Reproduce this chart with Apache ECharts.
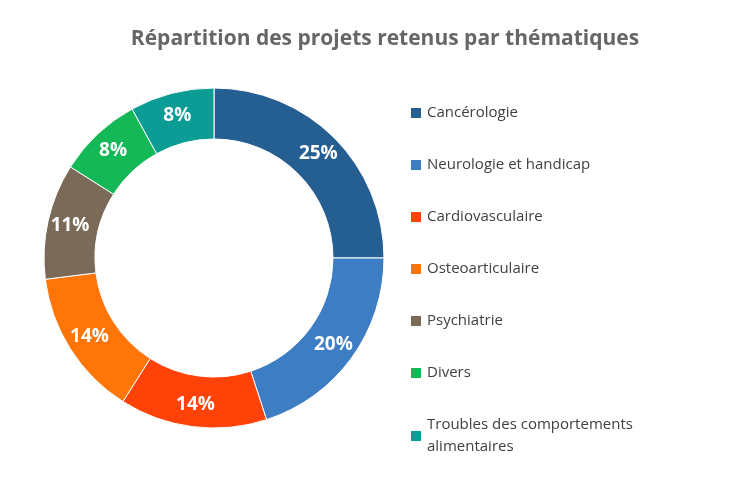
<!DOCTYPE html>
<html>
<head>
<meta charset="utf-8">
<script src="https://cdn.jsdelivr.net/npm/echarts@6/dist/echarts.min.js"></script>
<style>html,body{margin:0;background:#fff}#main{width:753px;height:486px}</style>
</head>
<body>
<div id="main"></div>
<script>
var categories = ['Cancérologie', 'Neurologie et handicap', 'Cardiovasculaire', 'Osteoarticulaire', 'Psychiatrie', 'Divers', 'Troubles des comportements alimentaires'];
var values = [25, 20, 14, 14, 11, 8, 8];
var colors = ['#255E91', '#3C7DC4', '#FF4207', '#FF7508', '#7A6A57', '#14B857', '#0C9C96'];

var chartDom = document.getElementById('main');
var myChart = echarts.init(chartDom, '');

var option = {
  title: {
    text: 'Répartition des projets retenus par thématiques',
    left: 380, top: 24, textAlign: 'center',
    textStyle: { fontFamily: 'Open Sans', fontSize: 21, fontWeight: 'bold', color: '#666666' }
  },
  color: colors,
  legend: {
    orient: 'vertical', left: 404, top: 97, height: 400,
    itemWidth: 12, itemHeight: 12, itemGap: 30, icon: 'rect',
    textStyle: { fontFamily: 'Open Sans', fontSize: 15, color: '#404040', lineHeight: 22 },
    formatter: function (n) {
      return n === categories[6] ? 'Troubles des comportements\nalimentaires' : n;
    }
  },
  series: [{
    type: 'pie',
    center: [214, 258],
    radius: [119, 170],
    startAngle: 90,
    clockwise: true,
    label: {
      position: 'inside', formatter: '{c}%',
      color: '#fff', fontFamily: 'Open Sans', fontSize: 19, fontWeight: 'bold'
    },
    labelLine: { show: false },
    itemStyle: { borderColor: '#fff', borderWidth: 1 },
    data: categories.map(function (c, i) { return { name: c, value: values[i] }; })
  }]
};
myChart.setOption(option);
</script>
</body>
</html>
